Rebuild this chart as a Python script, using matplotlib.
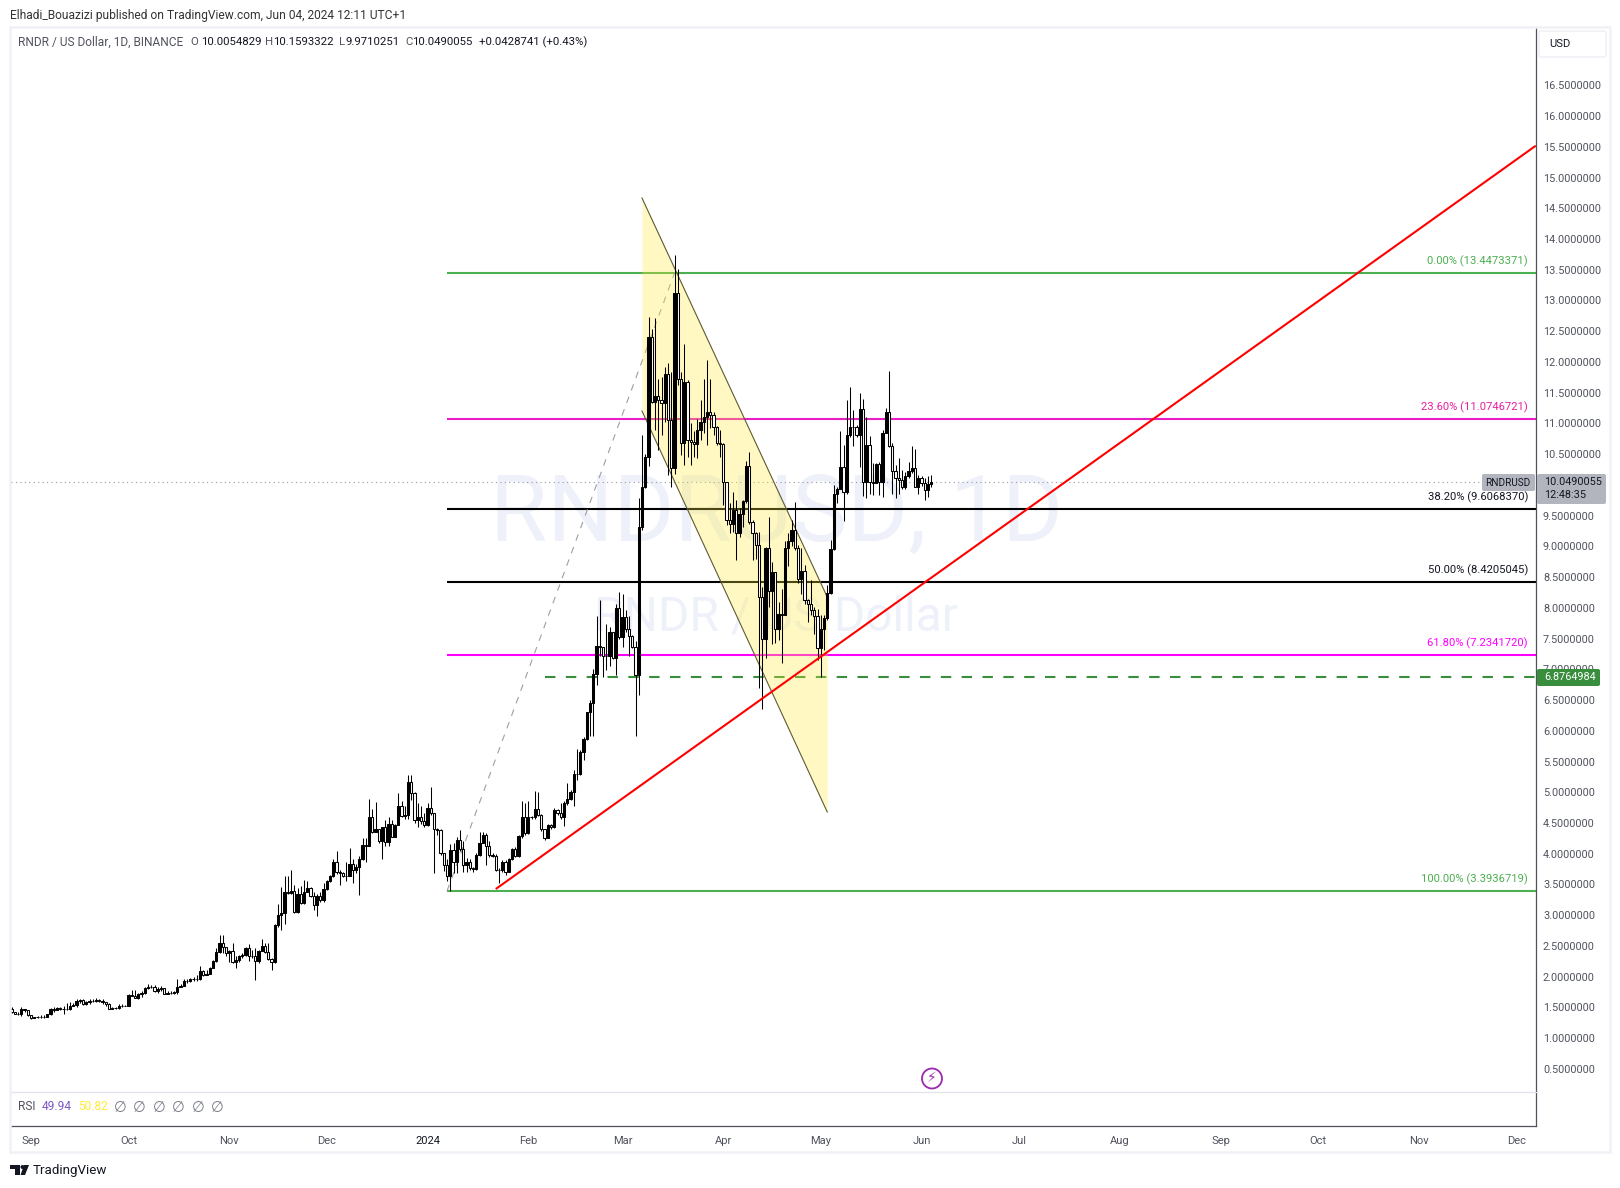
import matplotlib
matplotlib.use("Agg")
import matplotlib.pyplot as plt
import matplotlib.dates as mdates
import numpy as np
import pandas as pd
from matplotlib.patches import Rectangle, FancyBboxPatch, Circle, Polygon
from matplotlib.transforms import IdentityTransform

W, H = 1620, 1188

# daily candles, first one is 2023-08-26
start_date = "2023-08-26"

opens = [1.47, 1.42, 1.40, 1.39, 1.48, 1.45, 1.37, 1.33, 1.34, 1.34,
         1.35, 1.35, 1.39, 1.48, 1.46, 1.49, 1.48, 1.47, 1.48, 1.52,
         1.54, 1.61, 1.62, 1.55, 1.58, 1.60, 1.61, 1.62, 1.61, 1.58,
         1.55, 1.48, 1.49, 1.49, 1.52, 1.53, 1.53, 1.70, 1.69, 1.66,
         1.72, 1.74, 1.81, 1.83, 1.84, 1.76, 1.80, 1.81, 1.72, 1.74,
         1.74, 1.75, 1.83, 1.85, 1.93, 1.93, 1.96, 1.96, 1.96, 2.09,
         2.03, 2.05, 2.14, 2.25, 2.40, 2.54, 2.49, 2.38, 2.41, 2.24,
         2.27, 2.33, 2.35, 2.46, 2.34, 2.33, 2.26, 2.42, 2.50, 2.40,
         2.29, 2.24, 2.84, 3.01, 3.04, 3.37, 3.36, 3.40, 3.06, 3.34,
         3.20, 3.38, 3.45, 3.32, 3.16, 3.31, 3.25, 3.42, 3.56, 3.63,
         3.87, 3.71, 3.68, 3.64, 3.64, 3.84, 3.73, 3.79, 3.92, 4.14,
         4.13, 4.59, 4.36, 4.40, 4.20, 4.43, 4.19, 4.48, 4.28, 4.47,
         4.78, 4.62, 4.63, 5.17, 4.98, 4.55, 4.60, 4.54, 4.46, 4.74,
         4.66, 4.41, 4.39, 4.01, 3.81, 3.64, 4.06, 3.87, 4.22, 4.07,
         3.82, 3.87, 3.76, 3.75, 3.98, 4.18, 4.31, 4.12, 3.98, 3.97,
         3.73, 3.74, 3.87, 3.71, 3.91, 4.07, 3.96, 4.29, 4.60, 4.33,
         4.59, 4.59, 4.73, 4.63, 4.40, 4.25, 4.46, 4.44, 4.71, 4.66,
         4.60, 4.82, 4.89, 5.00, 5.29, 5.29, 5.66, 5.87, 6.30, 6.46,
         6.92, 7.38, 7.36, 7.21, 7.22, 7.60, 7.19, 7.99, 7.52, 7.85,
         7.65, 7.55, 7.37, 6.90, 9.31, 9.97, 10.45, 12.40, 11.35, 11.45,
         11.38, 11.33, 11.81, 11.05, 10.27, 13.13, 11.73, 10.68, 11.67, 10.73,
         10.69, 10.66, 10.90, 11.03, 11.10, 11.19, 11.13, 10.95, 10.68, 10.67,
         10.05, 9.43, 9.36, 9.59, 9.22, 9.53, 9.74, 10.31, 9.40, 9.22,
         9.03, 8.18, 7.50, 8.97, 8.28, 8.59, 7.65, 7.90, 7.88, 8.97,
         9.08, 9.26, 8.97, 8.47, 8.60, 8.13, 8.06, 7.96, 7.87, 7.34,
         7.65, 7.83, 8.24, 8.95, 9.86, 9.94, 10.29, 9.88, 10.82, 10.94,
         10.94, 10.81, 11.23, 10.05, 10.65, 10.04, 10.03, 10.34, 10.05, 10.85,
         11.19, 10.63, 10.23, 10.11, 10.08, 9.97, 10.14, 10.22, 10.27, 9.97,
         10.12, 10.03, 9.91, 10.01]

closes = [1.42, 1.40, 1.39, 1.48, 1.45, 1.37, 1.33, 1.34, 1.34, 1.35,
          1.35, 1.39, 1.48, 1.46, 1.49, 1.48, 1.47, 1.48, 1.52, 1.54,
          1.61, 1.62, 1.55, 1.58, 1.60, 1.61, 1.62, 1.61, 1.58, 1.55,
          1.48, 1.49, 1.49, 1.52, 1.53, 1.53, 1.70, 1.69, 1.66, 1.72,
          1.74, 1.81, 1.83, 1.84, 1.76, 1.80, 1.81, 1.72, 1.74, 1.74,
          1.75, 1.83, 1.85, 1.93, 1.93, 1.96, 1.96, 1.96, 2.09, 2.03,
          2.05, 2.14, 2.25, 2.40, 2.54, 2.49, 2.38, 2.41, 2.24, 2.27,
          2.33, 2.35, 2.46, 2.34, 2.33, 2.26, 2.42, 2.50, 2.40, 2.29,
          2.24, 2.84, 3.01, 3.04, 3.37, 3.36, 3.40, 3.06, 3.34, 3.20,
          3.38, 3.45, 3.32, 3.16, 3.31, 3.25, 3.42, 3.56, 3.63, 3.87,
          3.71, 3.68, 3.64, 3.64, 3.84, 3.73, 3.79, 3.92, 4.14, 4.13,
          4.59, 4.36, 4.40, 4.20, 4.43, 4.19, 4.48, 4.28, 4.47, 4.78,
          4.62, 4.63, 5.17, 4.98, 4.55, 4.60, 4.54, 4.46, 4.74, 4.66,
          4.41, 4.39, 4.01, 3.81, 3.64, 4.06, 3.87, 4.22, 4.07, 3.82,
          3.87, 3.76, 3.75, 3.98, 4.18, 4.31, 4.12, 3.98, 3.97, 3.73,
          3.74, 3.87, 3.71, 3.91, 4.07, 3.96, 4.29, 4.60, 4.33, 4.59,
          4.59, 4.73, 4.63, 4.40, 4.25, 4.46, 4.44, 4.71, 4.66, 4.60,
          4.82, 4.89, 5.00, 5.29, 5.29, 5.66, 5.87, 6.30, 6.46, 6.92,
          7.38, 7.36, 7.21, 7.22, 7.60, 7.19, 7.99, 7.52, 7.85, 7.65,
          7.55, 7.37, 6.90, 9.31, 9.97, 10.45, 12.40, 11.35, 11.45, 11.38,
          11.33, 11.81, 11.05, 10.27, 13.13, 11.73, 10.68, 11.67, 10.73, 10.69,
          10.66, 10.90, 11.03, 11.10, 11.19, 11.13, 10.95, 10.68, 10.67, 10.05,
          9.43, 9.36, 9.59, 9.22, 9.53, 9.74, 10.31, 9.40, 9.22, 9.03,
          8.18, 7.50, 8.97, 8.28, 8.59, 7.65, 7.90, 7.88, 8.97, 9.08,
          9.26, 8.97, 8.47, 8.60, 8.13, 8.06, 7.96, 7.87, 7.34, 7.65,
          7.83, 8.24, 8.95, 9.86, 9.94, 10.29, 9.88, 10.82, 10.94, 10.94,
          10.81, 11.23, 10.05, 10.65, 10.04, 10.03, 10.34, 10.05, 10.85, 11.19,
          10.63, 10.23, 10.11, 10.08, 9.97, 10.14, 10.22, 10.27, 9.97, 10.12,
          10.03, 9.91, 10.01, 10.05]

highs = [1.50, 1.43, 1.42, 1.50, 1.48, 1.46, 1.38, 1.35, 1.36, 1.38,
         1.38, 1.40, 1.49, 1.51, 1.51, 1.51, 1.52, 1.57, 1.59, 1.57,
         1.63, 1.63, 1.63, 1.61, 1.64, 1.63, 1.66, 1.63, 1.63, 1.58,
         1.57, 1.51, 1.51, 1.55, 1.55, 1.54, 1.71, 1.79, 1.79, 1.74,
         1.77, 1.84, 1.88, 1.86, 1.86, 1.84, 1.85, 1.81, 1.77, 1.77,
         1.77, 1.97, 1.88, 1.96, 1.97, 1.98, 1.99, 2.03, 2.18, 2.11,
         2.11, 2.16, 2.27, 2.46, 2.68, 2.68, 2.48, 2.43, 2.54, 2.33,
         2.35, 2.39, 2.49, 2.53, 2.44, 2.46, 2.44, 2.61, 2.55, 2.55,
         2.30, 2.85, 3.18, 3.46, 3.64, 3.64, 3.73, 3.49, 3.44, 3.47,
         3.57, 3.56, 3.46, 3.38, 3.34, 3.38, 3.52, 3.57, 3.65, 3.92,
         4.04, 3.73, 3.71, 3.87, 4.09, 3.92, 3.84, 3.96, 4.25, 4.25,
         4.89, 4.72, 4.84, 4.41, 4.44, 4.55, 4.60, 4.55, 4.49, 4.98,
         4.85, 4.77, 5.28, 5.28, 5.01, 4.83, 4.77, 4.66, 4.82, 5.08,
         4.66, 4.42, 4.40, 4.01, 3.92, 4.16, 4.18, 4.28, 4.39, 4.20,
         3.93, 3.91, 3.78, 4.01, 4.36, 4.35, 4.33, 4.20, 4.01, 3.99,
         3.76, 3.90, 3.90, 3.93, 4.09, 4.11, 4.30, 4.85, 4.82, 4.85,
         4.61, 5.02, 5.01, 4.65, 4.41, 4.48, 4.48, 4.74, 4.72, 4.82,
         4.85, 5.15, 5.04, 5.36, 5.70, 5.69, 5.90, 6.31, 6.50, 7.01,
         7.86, 8.13, 7.37, 7.74, 7.69, 7.53, 8.07, 8.26, 8.22, 7.97,
         7.86, 7.56, 7.46, 9.78, 10.81, 10.50, 12.73, 12.53, 12.71, 11.73,
         11.76, 11.92, 11.98, 11.84, 13.74, 13.51, 11.84, 12.30, 11.70, 11.00,
         10.87, 11.08, 11.38, 11.73, 12.03, 11.72, 11.19, 10.96, 10.89, 10.68,
         10.05, 9.70, 9.89, 9.75, 9.62, 9.75, 10.39, 10.53, 9.43, 9.24,
         9.24, 8.34, 8.99, 9.48, 8.75, 8.29, 8.10, 8.30, 9.08, 9.21,
         9.43, 9.73, 9.02, 8.97, 8.70, 8.15, 8.45, 8.02, 7.98, 7.88,
         7.88, 8.37, 9.10, 10.00, 9.97, 10.87, 10.65, 11.38, 11.59, 11.22,
         10.97, 11.49, 11.39, 11.11, 10.79, 10.36, 10.35, 10.38, 10.89, 11.25,
         11.86, 10.68, 10.32, 10.43, 10.24, 10.21, 10.38, 10.63, 10.58, 10.16,
         10.14, 10.11, 10.14, 10.16]

lows = [1.41, 1.39, 1.38, 1.36, 1.43, 1.36, 1.31, 1.32, 1.33, 1.33,
        1.33, 1.35, 1.38, 1.43, 1.45, 1.45, 1.40, 1.45, 1.46, 1.52,
        1.51, 1.57, 1.54, 1.54, 1.55, 1.59, 1.59, 1.59, 1.55, 1.53,
        1.47, 1.47, 1.47, 1.48, 1.51, 1.52, 1.52, 1.69, 1.65, 1.64,
        1.67, 1.72, 1.80, 1.81, 1.75, 1.74, 1.76, 1.71, 1.71, 1.71,
        1.71, 1.72, 1.83, 1.85, 1.90, 1.92, 1.93, 1.93, 1.95, 2.01,
        2.02, 2.04, 2.14, 2.24, 2.39, 2.39, 2.33, 2.24, 2.23, 2.14,
        2.24, 2.31, 2.33, 2.25, 2.30, 1.95, 2.22, 2.41, 2.38, 2.27,
        2.11, 2.23, 2.81, 2.76, 2.86, 3.34, 3.34, 3.04, 3.04, 3.19,
        3.19, 3.37, 3.30, 3.08, 2.99, 3.22, 3.22, 3.41, 3.54, 3.62,
        3.67, 3.49, 3.62, 3.55, 3.63, 3.52, 3.69, 3.33, 3.90, 3.87,
        4.13, 4.34, 4.35, 4.17, 3.91, 4.13, 4.13, 4.27, 4.28, 4.46,
        4.59, 4.56, 4.56, 4.87, 4.50, 4.44, 4.49, 4.44, 4.45, 4.63,
        3.68, 4.30, 3.98, 3.72, 3.55, 3.39, 3.68, 3.69, 4.05, 3.71,
        3.71, 3.73, 3.71, 3.73, 3.96, 4.18, 3.82, 3.95, 3.94, 3.72,
        3.52, 3.70, 3.65, 3.71, 3.90, 3.95, 3.95, 4.26, 4.30, 4.32,
        4.56, 4.57, 4.61, 4.37, 4.23, 4.25, 4.41, 4.42, 4.63, 4.57,
        4.45, 4.79, 4.87, 4.78, 5.20, 5.28, 5.52, 5.85, 5.92, 5.92,
        6.74, 7.21, 6.88, 6.99, 7.05, 7.16, 6.91, 7.49, 7.37, 7.61,
        7.22, 7.34, 5.91, 6.58, 9.27, 9.95, 10.31, 11.33, 10.89, 10.56,
        10.81, 11.03, 10.16, 9.96, 10.18, 11.62, 10.49, 10.32, 10.46, 10.32,
        10.46, 10.43, 10.73, 10.84, 10.65, 10.92, 10.81, 10.65, 10.46, 9.67,
        9.35, 9.21, 9.24, 8.78, 9.16, 9.32, 9.70, 9.37, 8.78, 8.80,
        6.69, 6.36, 7.18, 8.02, 7.42, 7.43, 7.47, 7.11, 7.88, 8.68,
        9.00, 8.94, 8.40, 8.23, 8.06, 7.77, 7.88, 7.58, 7.15, 6.88,
        7.31, 7.80, 8.22, 8.94, 9.70, 9.93, 9.41, 9.86, 10.78, 10.63,
        10.78, 10.29, 9.82, 9.78, 9.86, 9.84, 10.03, 9.84, 9.81, 10.85,
        10.61, 9.86, 9.78, 9.86, 9.94, 9.94, 10.12, 10.19, 9.97, 9.86,
        9.99, 9.76, 9.81, 9.97]

fib_labels = ["0.00%", "23.60%", "38.20%", "50.00%", "61.80%", "100.00%"]
fib_levels = [13.4473371, 11.0746721, 9.6068370, 8.4205045, 7.2341720, 3.3936719]
fib_colors = ["#4caf50", "#e91ec4", "#000000", "#000000", "#ff00ff", "#4caf50"]
fib_text_colors = ["#4caf50", "#e91e9c", "#131722", "#131722", "#ff00ff", "#4caf50"]

month_dates = ["2023-09-01", "2023-10-01", "2023-11-01", "2023-12-01", "2024-01-01",
               "2024-02-01", "2024-03-01", "2024-04-01", "2024-05-01", "2024-06-01",
               "2024-07-01", "2024-08-01", "2024-09-01", "2024-10-01", "2024-11-01",
               "2024-12-01"]
month_labels = ["Sep", "Oct", "Nov", "Dec", "2024", "Feb", "Mar", "Apr", "May", "Jun",
                "Jul", "Aug", "Sep", "Oct", "Nov", "Dec"]

price_ticks = [0.5 * k for k in range(1, 34)]

last_price = 10.0490055
stop_level = 6.8764984
stop_start = "2024-02-06"

trend_dates = ["2024-01-22", "2024-12-07"]
trend_prices = [3.426, 15.518]
fib_link_dates = ["2024-01-07", "2024-03-17"]
fib_link_prices = [3.3936719, 13.4473371]
channel_dates = ["2024-03-07", "2024-05-03"]
channel_upper = [14.667, 8.176]
channel_lower = [11.202, 4.679]


def num(d):
    return mdates.date2num(pd.Timestamp(d))


def fx(x):
    return x / W


def fy(y):
    return 1 - y / H


fig = plt.figure(figsize=(W / 100, H / 100), dpi=100, facecolor="white")
roboto = ["Roboto", "DejaVu Sans"]

# pane sits at these pixels, 61.47 px per dollar and 3.25 px per day
left, right, top, bottom = 11, 1536, 28, 1092
ax = fig.add_axes([fx(left), fy(bottom), fx(right - left), (bottom - top) / H])
ax.set_xlim(num("2023-09-01") + (left - 31) / 3.25, num("2023-09-01") + (right - 31) / 3.25)
ax.set_ylim(13.4473371 - (bottom - 273) / 61.47, 13.4473371 + (273 - top) / 61.47)

# watermark
fig.text(fx(776), fy(516), "RNDRUSD, 1D", fontsize=67, family=roboto, color="#eef1fa",
         ha="center", va="center", zorder=-1)
fig.text(fx(776), fy(617), "RNDR / US Dollar", fontsize=34.5, family=roboto, color="#eef1fa",
         ha="center", va="center", zorder=-1)
ax.patch.set_alpha(0)

ax.axhline(last_price, color="#9598a1", lw=0.8, ls=(0, (1, 3)), zorder=1)

# fib retracement
for level, color in zip(fib_levels, fib_colors):
    ax.plot([num(fib_link_dates[0]), ax.get_xlim()[1]], [level, level], color=color, lw=1.5,
            solid_capstyle="butt", zorder=2)
for label_text, level, color in zip(fib_labels, fib_levels, fib_text_colors):
    fig.text(fx(1528), fy(273 + (13.4473371 - level) * 61.47 - 12),
             "%s (%.7f)" % (label_text, level), color=color, fontsize=8.1, family=roboto,
             ha="right", va="center", zorder=5)
ax.plot([num(d) for d in fib_link_dates], fib_link_prices, color="#9e9e9e", lw=0.8,
        ls=(0, (6, 6)), zorder=2)

ax.plot([num(stop_start), ax.get_xlim()[1]], [stop_level, stop_level], color="#388e3c",
        lw=1.5, ls=(0, (5, 5)), zorder=2)

# channel, yellow goes over the levels
cx = [num(d) for d in channel_dates]
ax.fill_between(cx, channel_lower, channel_upper, color="#ffeb3b", alpha=0.3, lw=0, zorder=3)
ax.plot(cx, channel_upper, color="#5d5a32", lw=0.8, zorder=3)
ax.plot(cx, channel_lower, color="#5d5a32", lw=0.8, zorder=3)

# candles, black is up here
dates = pd.date_range(start_date, periods=len(closes))
x = mdates.date2num(dates)
o = np.array(opens)
c = np.array(closes)
up = c >= o
ax.vlines(x, lows, highs, color="black", lw=0.75, zorder=4)
ax.bar(x, np.abs(c - o), bottom=np.minimum(o, c), width=0.66,
       color=np.where(up, "black", "white").tolist(), edgecolor="black", lw=0.75, zorder=5)

ax.plot([num(d) for d in trend_dates], trend_prices, color="#ff0000", lw=1.5, zorder=6,
        solid_capstyle="butt")

ax.set_yticks(price_ticks)
ax.set_yticklabels(["%.7f" % p for p in price_ticks], family=roboto, fontsize=7.8, color="#50535e")
ax.yaxis.tick_right()
ax.tick_params(axis="y", length=0, pad=5)
ax.set_xticks([])
for side in ["top", "left", "bottom"]:
    ax.spines[side].set_visible(False)
ax.spines["right"].set_color("#50535e")
ax.spines["right"].set_linewidth(0.9)

# rsi pane holds the time axis
ax2 = fig.add_axes([fx(left), fy(1126), fx(right - left), (1126 - bottom) / H], sharex=ax)
ax2.set_yticks([])
ax2.set_xticks([num(d) for d in month_dates])
ax2.set_xticklabels(month_labels, family=roboto, fontsize=8, color="#50535e")
ax2.get_xticklabels()[4].set_color("#131722")
ax2.tick_params(axis="x", length=0, pad=7)
ax2.spines["left"].set_visible(False)
ax2.spines["top"].set_color("#e0e3eb")
ax2.spines["bottom"].set_color("#50535e")
ax2.spines["right"].set_color("#50535e")
for side in ["top", "bottom", "right"]:
    ax2.spines[side].set_linewidth(0.9)
ax.set_xlim(num("2023-09-01") + (left - 31) / 3.25, num("2023-09-01") + (right - 31) / 3.25)


def label(xp, yp, s, color="#131722", size=8.65, fam=roboto, **kw):
    fig.text(fx(xp), fy(yp), s, color=color, fontsize=size, family=fam, va="center", zorder=20, **kw)


def tag(x0, y0, x1, y1, color):
    fig.add_artist(FancyBboxPatch((x0 + 2, H - y1 + 2), x1 - x0 - 4, y1 - y0 - 4, boxstyle="round,pad=2",
                                  transform=IdentityTransform(), facecolor=color, edgecolor="none", zorder=15))


# frame
fig.add_artist(Rectangle((10, H - 1152), 1600, 1152 - 27, transform=IdentityTransform(), fill=False,
                         edgecolor="#f0f1f6", lw=1.8, zorder=12))
fig.add_artist(FancyBboxPatch((1541, H - 55), 63, 22, boxstyle="round,pad=2", transform=IdentityTransform(),
                              facecolor="white", edgecolor="#eeeff4", lw=1, zorder=15))
label(1549, 44, "USD", size=8)

# header
label(10, 15, "Elhadi_Bouazizi published on TradingView.com, Jun 04, 2024 12:11 UTC+1", color="#333333")
label(18, 42, "RNDR / US Dollar, 1D, BINANCE", color="#50535e", size=8.6)
for xp, s, col in [(190.5, "O", "#50535e"), (201, "10.0054829", "#131722"), (265, "H", "#50535e"),
                   (273, "10.1593322", "#131722"), (339, "L", "#50535e"), (345, "9.9710251", "#131722"),
                   (405, "C", "#50535e"), (412, "10.0490055", "#131722"),
                   (479, "+0.0428741 (+0.43%)", "#131722")]:
    label(xp, 42, s, color=col, size=8.2)

# price tags
tag(1482, 474, 1535, 491, "#b2b5be")
label(1485, 482.5, "RNDRUSD", size=7.2)
tag(1537, 474, 1606, 504, "#b2b5be")
label(1544, 482, "%.7f" % last_price, size=7.8)
label(1544, 495, "12:48:35", size=7.8)
tag(1537, 669, 1600, 686, "#388e3c")
label(1544, 677.5, "%.7f" % stop_level, color="white", size=7.8)

# rsi legend
label(18, 1107, "RSI", color="#50535e", size=8.6)
label(42, 1107, "49.94", color="#7e57c2", size=8.6)
label(78, 1107, "50.82", color="#ffeb3b", size=8.6)
for k in range(6):
    label(120 + 19.5 * k, 1107, "\u2205", color="#787b86", size=10.5, fam=["DejaVu Sans"], ha="center")

# lightning badge
fig.add_artist(Circle((932, H - 1078.5), 10, transform=IdentityTransform(), fill=False, edgecolor="#9c27b0",
                      lw=1.3, zorder=15))
label(932, 1078.5, "\u26a1", color="#9c27b0", size=10, fam=["DejaVu Sans"], ha="center")

# logo
for pts in [[(10, 1165), (20, 1165), (20, 1175), (15, 1175), (15, 1169), (10, 1169)],
            [(24, 1165), (29, 1165), (25, 1175), (20.5, 1175)]]:
    fig.add_artist(Polygon([(a, H - b) for a, b in pts], transform=IdentityTransform(), facecolor="#131722",
                           edgecolor="none", zorder=15))
fig.add_artist(Circle((22.5, H - 1167), 2, transform=IdentityTransform(), facecolor="#131722", edgecolor="none",
                      zorder=15))
label(33, 1170.5, "TradingView", size=9.6)

fig.savefig("out.png", dpi=100)
